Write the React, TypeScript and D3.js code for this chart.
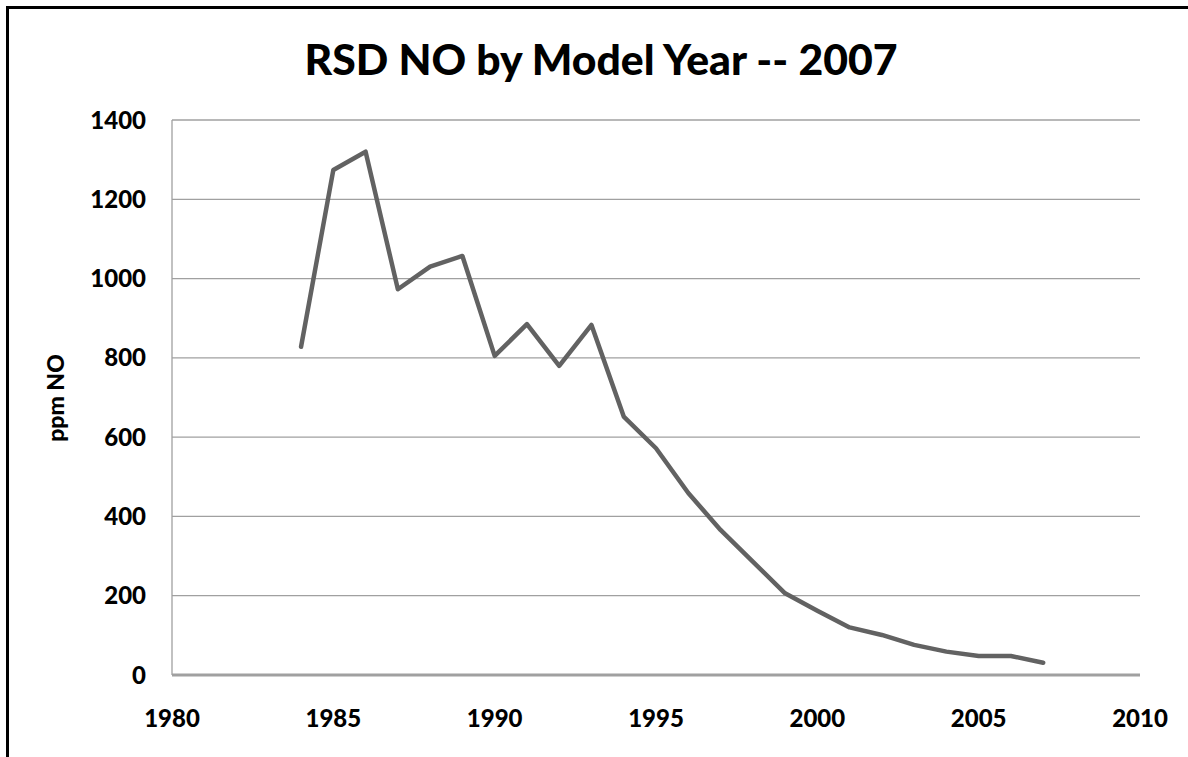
import React from "react";
import * as d3 from "d3";

const years = [1984, 1985, 1986, 1987, 1988, 1989, 1990, 1991, 1992, 1993, 1994, 1995, 1996, 1997, 1998, 1999, 2000, 2001, 2002, 2003, 2004, 2005, 2006, 2007];
const ppmNO = [828, 1274, 1320, 973, 1030, 1057, 805, 885, 780, 883, 652, 572, 459, 366, 286, 206, 162, 120, 101, 76, 59, 48, 48, 31];
const yTicks = [0, 200, 400, 600, 800, 1000, 1200, 1400];
const xTicks = [1980, 1985, 1990, 1995, 2000, 2005, 2010];
const title = "RSD NO by Model Year -- 2007";
const yLabel = "ppm NO";

export default function App() {
  const W = 1188, H = 757;
  const left = 172, right = 1140, top = 120, bottom = 675;
  const x = d3.scaleLinear().domain([1980, 2010]).range([left, right]);
  const y = d3.scaleLinear().domain([0, 1400]).range([bottom, top]);
  const line = d3.line<number>().x((_, i) => x(years[i])).y((d) => y(d));
  const font = "Lato, 'Open Sans', sans-serif";
  return (
    <div style={{ position: "fixed", left: 0, top: 0 }}>
      <svg width={W} height={H} style={{ display: "block", background: "#fff" }}>
        <rect x={0} y={0} width={W} height={H} fill="#fff" />
        <path d={`M7.5,${H} V7.5 H${W}`} fill="none" stroke="#000" strokeWidth={3} />
        <text x={601} y={75} textAnchor="middle" fontFamily={font} fontWeight={900} fontSize={42} fill="#000" textLength={593} lengthAdjust="spacingAndGlyphs">{title}</text>
        {yTicks.map((t) => (
          <line key={"g" + t} x1={left} x2={right} y1={y(t)} y2={y(t)} stroke="#a0a0a0" strokeWidth={t === 0 ? 3 : 1.3} />
        ))}
        <line x1={left} x2={left} y1={top} y2={bottom} stroke="#a0a0a0" strokeWidth={1.3} />
        {yTicks.map((t) => (
          <text key={"yt" + t} x={146} y={y(t)} dy="0.36em" textAnchor="end" fontFamily={font} fontWeight={900} fontSize={24} fill="#000">{t}</text>
        ))}
        {xTicks.map((t) => (
          <text key={"xt" + t} x={x(t)} y={727} textAnchor="middle" fontFamily={font} fontWeight={900} fontSize={24} fill="#000">{t}</text>
        ))}
        <text transform="translate(64,398) rotate(-90)" textAnchor="middle" fontFamily={font} fontWeight={900} fontSize={23} fill="#000">{yLabel}</text>
        <path d={line(ppmNO) || ""} fill="none" stroke="#626262" strokeWidth={4.5} strokeLinejoin="round" strokeLinecap="round" />
      </svg>
    </div>
  );
}
